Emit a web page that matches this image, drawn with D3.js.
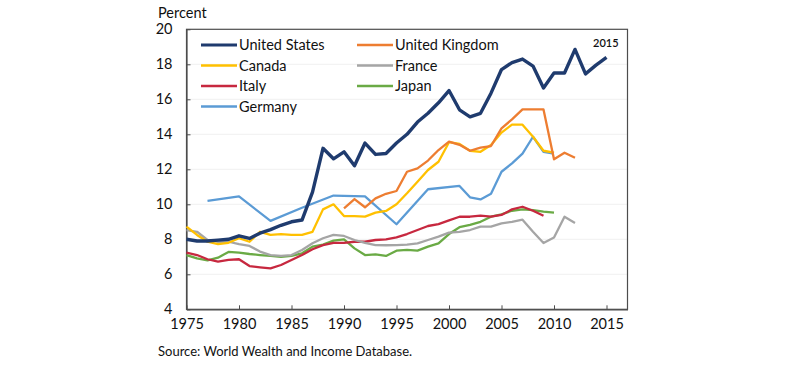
<!DOCTYPE html>
<html>
<head>
<meta charset="utf-8">
<script src="https://cdn.jsdelivr.net/npm/d3@7"></script>
<style>
  body { margin: 0; background: #fff; }
  svg text { font-family: Lato, "Open Sans", sans-serif; fill: #111; }
</style>
</head>
<body>
<div class="chart"></div>
<script>
// top 1% income share, percent
var years = [1975, 1976, 1977, 1978, 1979, 1980, 1981, 1982, 1983, 1984,
             1985, 1986, 1987, 1988, 1989, 1990, 1991, 1992, 1993, 1994,
             1995, 1996, 1997, 1998, 1999, 2000, 2001, 2002, 2003, 2004,
             2005, 2006, 2007, 2008, 2009, 2010, 2011, 2012, 2013, 2014, 2015];

var unitedStates = [8.0, 7.9, 7.9, 7.95, 8.0, 8.2, 8.05, 8.35, 8.55, 8.8,
                    9.0, 9.1, 10.7, 13.2, 12.6, 13.0, 12.2, 13.5, 12.85, 12.9,
                    13.5, 14.0, 14.7, 15.2, 15.8, 16.5, 15.4, 15.0, 15.2, 16.35,
                    17.7, 18.1, 18.3, 17.9, 16.65, 17.5, 17.5, 18.85, 17.45, 17.95, 18.4];

var unitedKingdom = [null, null, null, null, null, null, null, null, null, null,
                     null, null, null, null, null, 9.77, 10.3, 9.83, 10.34, 10.6,
                     10.76, 11.86, 12.05, 12.5, 13.1, 13.58, 13.4, 13.06, 13.24, 13.33,
                     14.34, 14.85, 15.42, 15.42, 15.42, 12.57, 12.95, 12.66, null, null, null];

var canada = [8.72, 8.25, 7.86, 7.73, 7.8, 8.06, 7.86, 8.43, 8.25, 8.3,
              8.25, 8.25, 8.43, 9.71, 10.0, 9.33, 9.33, 9.3, 9.52, 9.62,
              10.0, 10.63, 11.29, 11.96, 12.43, 13.55, 13.45, 13.06, 13.0, 13.39,
              14.1, 14.55, 14.55, 13.86, 13.06, 12.95, null, null, null, null, null];

var france = [8.53, 8.43, 7.96, 7.86, 7.86, 7.73, 7.62, 7.3, 7.1, 7.05,
              7.1, 7.39, 7.77, 8.06, 8.25, 8.19, 7.96, 7.8, 7.67, 7.66,
              7.67, 7.7, 7.77, 7.96, 8.15, 8.38, 8.43, 8.53, 8.72, 8.72,
              8.91, 9.0, 9.12, 8.43, 7.79, 8.1, 9.29, 8.93, null, null, null];

var italy = [7.24, 7.1, 6.86, 6.72, 6.82, 6.86, 6.47, 6.4, 6.34, 6.53,
             6.82, 7.1, 7.43, 7.67, 7.8, 7.8, 7.86, 7.86, 7.96, 8.0,
             8.11, 8.3, 8.53, 8.76, 8.87, 9.08, 9.29, 9.29, 9.35, 9.29,
             9.39, 9.71, 9.86, 9.63, 9.35, null, null, null, null, null, null];

var japan = [7.1, 6.91, 6.8, 6.95, 7.28, 7.24, 7.16, 7.1, 7.05, 7.0,
             7.05, 7.2, 7.58, 7.7, 7.92, 8.0, 7.48, 7.1, 7.14, 7.05,
             7.35, 7.39, 7.35, 7.58, 7.77, 8.3, 8.69, 8.82, 9.0, 9.29,
             9.43, 9.63, 9.71, 9.67, 9.58, 9.52, null, null, null, null, null];

var germany = [null, null, 10.2, null, null, 10.45, null, null, 9.05, null,
               null, 9.8, null, null, 10.5, null, null, 10.45, null, null,
               8.86, null, null, 10.86, null, null, 11.05, 10.4, 10.28, 10.6,
               11.86, 12.34, 12.9, 13.86, 13.0, 12.9, null, null, null, null, null];

var series = [
    { name: 'United States', values: unitedStates, color: '#1f3b6e', w: 3.4 },
    { name: 'United Kingdom', values: unitedKingdom, color: '#ed7d31', w: 2.3 },
    { name: 'Canada', values: canada, color: '#ffc000', w: 2.3 },
    { name: 'France', values: france, color: '#a5a5a5', w: 2.3 },
    { name: 'Italy', values: italy, color: '#c7283f', w: 2.3 },
    { name: 'Japan', values: japan, color: '#6aaa45', w: 2.3 },
    { name: 'Germany', values: germany, color: '#5b9bd5', w: 2.3 }
];

var yTicks = [4, 6, 8, 10, 12, 14, 16, 18, 20],
    xTicks = [1975, 1980, 1985, 1990, 1995, 2000, 2005, 2010, 2015];

var width = 800,
    height = 368,
    plot = { left: 186.5, right: 627.5, top: 29.3, bottom: 309.3 };

var svg = d3.select('.chart').append('svg')
    .attr('width', width)
    .attr('height', height);

var x = d3.scaleLinear().domain([1975, 2017]).range([plot.left, plot.right]),
    y = d3.scaleLinear().domain([4, 20]).range([plot.bottom, plot.top]);

// faint gridlines
svg.append('g')
    .selectAll('line')
    .data(yTicks.slice(1, -1))
    .enter()
    .append('line')
    .attr('x1', plot.left)
    .attr('x2', plot.right)
    .attr('y1', function (d) { return y(d); })
    .attr('y2', function (d) { return y(d); })
    .attr('stroke', '#f0f0f0')
    .attr('stroke-width', 1);

// frame
svg.append('rect')
    .attr('x', plot.left)
    .attr('y', plot.top)
    .attr('width', plot.right - plot.left)
    .attr('height', plot.bottom - plot.top)
    .attr('fill', 'none')
    .attr('stroke', '#4d4d4d')
    .attr('stroke-width', 1.2);

var yAxis = svg.append('g')
    .attr('transform', 'translate(' + plot.left + ',0)')
    .call(d3.axisLeft(y).tickValues(yTicks).tickSize(-4).tickPadding(14).tickSizeOuter(0));

var xAxis = svg.append('g')
    .attr('transform', 'translate(0,' + plot.bottom + ')')
    .call(d3.axisBottom(x).tickValues(xTicks).tickFormat(d3.format('d'))
          .tickSize(-4).tickPadding(9).tickSizeOuter(0));

[yAxis, xAxis].forEach(function (a) {
    a.select('.domain').attr('stroke', '#4d4d4d').attr('stroke-width', 1.2);
    a.selectAll('.tick line').attr('stroke', '#4d4d4d');
    a.selectAll('.tick text')
        .style('font-size', '14.5px')
        .style('font-family', 'Lato, "Open Sans", sans-serif')
        .attr('fill', '#111');
});

var line = d3.line()
    .x(function (d) { return x(d.year); })
    .y(function (d) { return y(d.value); });

svg.append('g')
    .selectAll('path')
    .data(series.slice().reverse())
    .enter()
    .append('path')
    .attr('fill', 'none')
    .attr('stroke', function (d) { return d.color; })
    .attr('stroke-width', function (d) { return d.w; })
    .attr('stroke-linejoin', 'round')
    .attr('d', function (d) {
        var pts = [];
        d.values.forEach(function (v, i) {
            if (v !== null) pts.push({ year: years[i], value: v });
        });
        return line(pts);
    });

// legend, two columns
var legend = svg.append('g')
    .selectAll('g')
    .data(series)
    .enter()
    .append('g')
    .attr('transform', function (d, i) {
        var col = i % 2,
            row = Math.floor(i / 2);
        if (i === 6) { col = 0; row = 3; }
        return 'translate(' + (col === 0 ? 201 : 357) + ',' + (45 + row * 20.5) + ')';
    });

legend.append('line')
    .attr('x1', 0)
    .attr('x2', 36)
    .attr('stroke', function (d) { return d.color; })
    .attr('stroke-width', function (d) { return d.w > 3 ? 3.2 : 2.4; });

legend.append('text')
    .attr('x', 38)
    .attr('dy', '0.36em')
    .style('font-size', '14.5px')
    .text(function (d) { return d.name; });

svg.append('text')
    .attr('x', 158)
    .attr('y', 18)
    .style('font-size', '14.5px')
    .text('Percent');

svg.append('text')
    .attr('x', 593)
    .attr('y', 46.5)
    .style('font-size', '11px')
    .style('font-weight', 600)
    .text('2015');

svg.append('text')
    .attr('x', 158)
    .attr('y', 356)
    .style('font-size', '13px')
    .text('Source: World Wealth and Income Database.');
</script>
</body>
</html>
